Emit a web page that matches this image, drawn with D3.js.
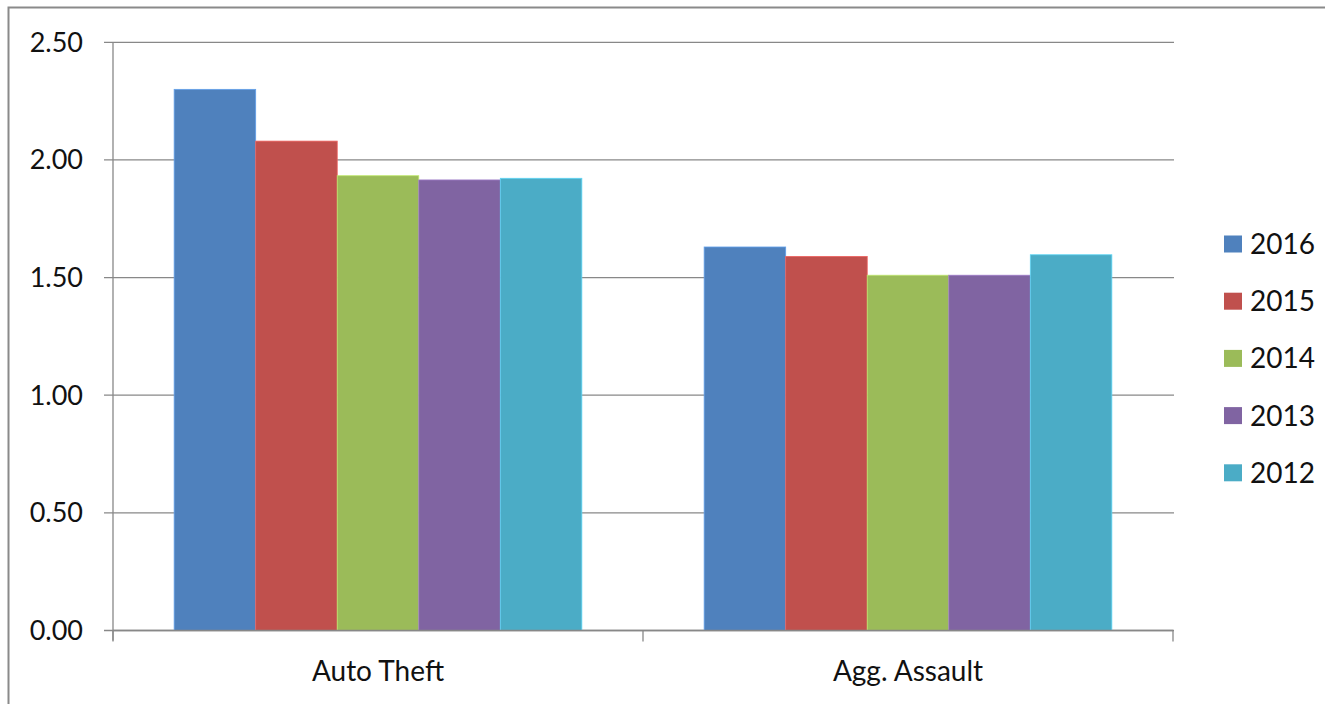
<!DOCTYPE html>
<html><head><meta charset="utf-8">
<script src="https://cdn.jsdelivr.net/npm/d3@7"></script>
<style>body{margin:0;background:#fff}svg{display:block}text{font-family:Lato,"Open Sans",sans-serif;fill:#111}</style>
</head><body><svg id="c" width="1325" height="704"></svg>
<script>
const categories = ["Auto Theft", "Agg. Assault"];
const years = ["2016", "2015", "2014", "2013", "2012"];
const v2016 = [2.30, 1.63];
const v2015 = [2.08, 1.59];
const v2014 = [1.933, 1.51];
const v2013 = [1.915, 1.51];
const v2012 = [1.922, 1.597];
const series = [v2016, v2015, v2014, v2013, v2012];
const colors = ["#4F81BD", "#C0504D", "#9BBB59", "#8064A2", "#4BACC6"];
const yTicks = [0, 0.5, 1.0, 1.5, 2.0, 2.5];

(function(){
const svg = d3.select("#c");
// outer frame
svg.append("path").attr("d","M8.5,704 V7.5 H1325").attr("fill","none").attr("stroke","#8a8a8a").attr("stroke-width",2);

const pl = 113, pr = 1173, pt = 42.3, pb = 630.5;
const x0 = d3.scaleBand().domain(categories).range([pl, pr]).paddingInner(0).paddingOuter(0);
const x1 = d3.scaleBand().domain(years).range([0, x0.bandwidth()]).paddingInner(0).paddingOuter(0.75);
const y = d3.scaleLinear().domain([0, 2.5]).range([pb, pt]);

// gridlines
svg.append("g").selectAll("line").data(yTicks).join("line")
  .attr("x1", pl - 9).attr("x2", pr + 1)
  .attr("y1", d => y(d)).attr("y2", d => y(d))
  .attr("stroke", "#888").attr("stroke-width", 1.3);

// y labels
svg.append("g").selectAll("text").data(yTicks).join("text")
  .attr("x", 83).attr("y", d => y(d)).attr("dy", "0.35em")
  .attr("text-anchor", "end").attr("font-size", 27)
  .text(d => d3.format(".2f")(d));

// bars
const g = svg.append("g");
categories.forEach((c, ci) => {
  years.forEach((yr, si) => {
    g.append("rect")
      .attr("x", x0(c) + x1(yr)).attr("width", x1.bandwidth())
      .attr("y", y(series[si][ci])).attr("height", y(0) - y(series[si][ci]))
      .attr("fill", colors[si])
      .attr("stroke", d3.color(colors[si]).brighter(0.6)).attr("stroke-width", 0.8);
  });
});

// axes lines
svg.append("line").attr("x1", pl).attr("x2", pl).attr("y1", pt).attr("y2", pb + 10).attr("stroke", "#888").attr("stroke-width", 1.3);
svg.append("line").attr("x1", pl).attr("x2", pr).attr("y1", pb).attr("y2", pb).attr("stroke", "#888").attr("stroke-width", 1.5);
const tickXs = [pl].concat(categories.map(c => x0(c) + x0.bandwidth()));
svg.append("g").selectAll("line").data(tickXs).join("line")
  .attr("x1", d => d).attr("x2", d => d).attr("y1", pb).attr("y2", pb + 11)
  .attr("stroke", "#888").attr("stroke-width", 1.3);

// category labels
svg.append("g").selectAll("text").data(categories).join("text")
  .attr("x", d => x0(d) + x0.bandwidth() / 2).attr("y", 671).attr("dy", "0.35em")
  .attr("text-anchor", "middle").attr("font-size", 28).text(d => d);

// legend
const lg = svg.append("g");
years.forEach((yr, i) => {
  const cy = 244 + i * 57.2;
  lg.append("rect").attr("x", 1224).attr("y", cy - 8.5).attr("width", 18).attr("height", 17).attr("fill", colors[i]);
  lg.append("text").attr("x", 1250).attr("y", cy).attr("dy", "0.36em").attr("font-size", 28).text(yr);
});
})();
</script></body></html>
